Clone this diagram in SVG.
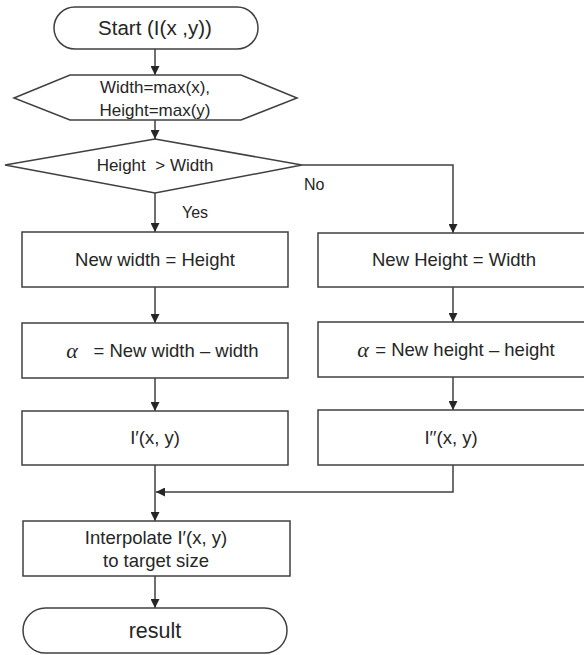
<svg xmlns="http://www.w3.org/2000/svg" width="584" height="655" viewBox="0 0 584 655">
<defs>
<marker id="ah" markerUnits="userSpaceOnUse" markerWidth="9" markerHeight="9" refX="9" refY="4.5" orient="auto">
<path d="M0,0 L9,4.5 L0,9 z" fill="#262626"/>
</marker>
<style>
.shape{fill:#ffffff;stroke:#404040;stroke-width:1.5}
.conn{fill:none;stroke:#404040;stroke-width:1.5}
text{font-family:"Liberation Sans",Arial,sans-serif;fill:#262626;text-anchor:middle}
.t{font-size:18.5px}
.s{font-size:17px}
.big{font-size:20.5px}
.lbl{font-size:16px;text-anchor:start}
.alpha{font-family:"Liberation Serif","DejaVu Serif",serif;font-style:italic;font-size:22px}
</style>
</defs>
<rect width="584" height="655" fill="#ffffff"/>
<g id="connectors">
<line class="conn" x1="155" y1="49" x2="155" y2="75" marker-end="url(#ah)"/>
<line class="conn" x1="155" y1="120" x2="155" y2="139" marker-end="url(#ah)"/>
<line class="conn" x1="155" y1="193" x2="155" y2="232" marker-end="url(#ah)"/>
<polyline class="conn" points="302,165 453,165 453,233" marker-end="url(#ah)"/>
<line class="conn" x1="155" y1="287" x2="155" y2="323" marker-end="url(#ah)"/>
<line class="conn" x1="155" y1="378" x2="155" y2="411" marker-end="url(#ah)"/>
<line class="conn" x1="453" y1="287" x2="453" y2="322" marker-end="url(#ah)"/>
<line class="conn" x1="453" y1="377" x2="453" y2="410" marker-end="url(#ah)"/>
<line class="conn" x1="155" y1="465" x2="155" y2="521" marker-end="url(#ah)"/>
<polyline class="conn" points="453,465 453,492 156,492" marker-end="url(#ah)"/>
<line class="conn" x1="155" y1="576" x2="155" y2="608" marker-end="url(#ah)"/>
<text class="lbl" x="182" y="218">Yes</text>
<text class="lbl" x="304" y="190">No</text>
</g>
<g id="start">
<rect class="shape" x="54" y="7" width="204" height="42" rx="21" ry="21"/>
<text class="big" x="155" y="35">Start (I(x ,y))</text>
</g>
<g id="init">
<polygon class="shape" points="14,98 70,75 241,75 297,98 241,120 70,120"/>
<text class="s" x="155" y="93">Width=max(x),</text>
<text class="s" x="155" y="116">Height=max(y)</text>
</g>
<g id="decision">
<polygon class="shape" points="155,139 302,165 155,193 5,165"/>
<text class="s" x="155" y="171">Height&#160; &gt; Width</text>
</g>
<g id="newWidth">
<rect class="shape" x="22" y="232" width="266" height="55"/>
<text class="t" x="155" y="266">New width = Height</text>
</g>
<g id="alphaW">
<rect class="shape" x="22" y="323" width="266" height="55"/>
<text class="alpha" x="72" y="358">α</text>
<text class="t" x="176" y="357">= New width – width</text>
</g>
<g id="iPrime">
<rect class="shape" x="22" y="411" width="266" height="54"/>
<text class="t" x="155" y="444">I′(x, y)</text>
</g>
<g id="newHeight">
<rect class="shape" x="318" y="233" width="272" height="54"/>
<text class="t" x="454" y="266">New Height = Width</text>
</g>
<g id="alphaH">
<rect class="shape" x="318" y="322" width="272" height="55"/>
<text class="alpha" x="363" y="357">α</text>
<text class="t" x="465" y="356">= New height – height</text>
</g>
<g id="iDoublePrime">
<rect class="shape" x="318" y="410" width="272" height="55"/>
<text class="t" x="451" y="444">I′′(x, y)</text>
</g>
<g id="interpolate">
<rect class="shape" x="23" y="521" width="267" height="55"/>
<text class="t" x="156" y="544">Interpolate I′(x, y)</text>
<text class="t" x="156" y="567">to target size</text>
</g>
<g id="result">
<rect class="shape" x="23" y="608" width="264" height="45" rx="22.5" ry="22.5"/>
<text class="big" x="155" y="638" style="font-size:21.5px">result</text>
</g>
</svg>
